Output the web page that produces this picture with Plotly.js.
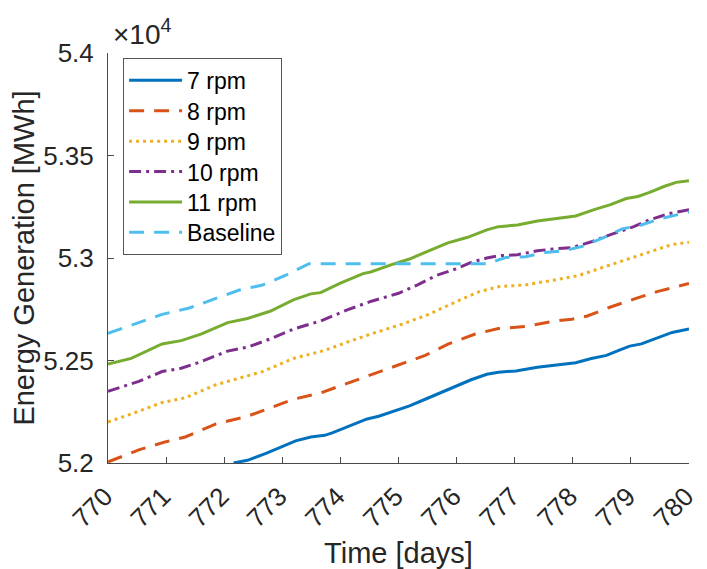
<!DOCTYPE html>
<html>
<head>
<meta charset="utf-8">
<script src="https://cdn.plot.ly/plotly-3.0.1.min.js"></script>
<style>
html,body{margin:0;padding:0;background:#fff;}
#chart{width:707px;height:569px;}
</style>
</head>
<body>
<div id="chart"></div>
<script>
// Energy generation in MWh
const days7 = [772.16,772.40,772.73,772.99,773.23,773.49,773.73,773.86,774.13,774.46,774.66,774.92,775.19,775.46,775.72,775.99,776.25,776.52,776.72,777.02,777.39,777.72,778.05,778.32,778.58,778.78,778.98,779.18,779.45,779.71,780.00];
const rpm7  = [52000,52013,52048,52080,52108,52127,52135,52147,52178,52215,52228,52252,52279,52311,52342,52374,52406,52433,52443,52449,52467,52478,52489,52510,52525,52548,52570,52581,52608,52637,52654];

const days8 = [770.00,770.53,771.00,771.33,771.86,772.40,772.79,773.19,773.66,774.13,774.52,774.99,775.46,775.86,776.32,776.72,777.19,777.65,777.98,778.25,778.65,779.05,779.45,780.00];
const rpm8  = [52005,52064,52104,52127,52191,52228,52268,52311,52342,52390,52430,52475,52525,52581,52629,52656,52666,52691,52701,52717,52761,52799,52836,52876];

const days9 = [770.00,770.40,770.93,771.33,771.86,772.26,772.66,773.19,773.73,774.19,774.52,775.06,775.52,776.00,776.39,776.72,777.19,777.85,778.12,778.45,778.78,779.05,779.31,779.71,780.00];
const rpm9  = [52200,52239,52295,52318,52382,52414,52446,52510,52549,52597,52629,52677,52725,52788,52836,52860,52869,52901,52916,52948,52979,53003,53027,53066,53077];

const days10 = [770.00,770.53,770.93,771.26,771.60,772.06,772.40,772.79,773.19,773.66,774.13,774.52,775.00,775.32,775.66,775.99,776.25,776.52,776.72,777.05,777.39,777.72,777.98,778.32,778.65,779.05,779.31,779.65,780.00];
const rpm10  = [52350,52398,52446,52462,52494,52546,52565,52605,52653,52693,52748,52788,52828,52868,52916,52947,52979,53000,53011,53016,53035,53046,53050,53079,53114,53153,53185,53216,53235];

const days11 = [770.00,770.40,770.93,771.26,771.60,772.06,772.40,772.79,773.19,773.49,773.66,773.99,774.39,774.52,774.92,775.19,775.52,775.85,776.19,776.52,776.72,777.05,777.39,777.72,778.05,778.38,778.65,778.92,779.12,779.31,779.58,779.78,780.00];
const rpm11  = [52483,52510,52581,52597,52629,52685,52705,52740,52796,52825,52831,52876,52924,52932,52971,52995,53035,53074,53101,53137,53153,53161,53180,53192,53205,53237,53260,53290,53300,53319,53350,53369,53377];

const daysBase = [770.00,770.53,770.93,771.40,771.86,772.26,772.66,773.06,773.46,776.52,776.85,777.19,777.52,777.85,778.18,778.52,778.85,779.18,779.51,780.00];
const baseline = [52632,52685,52725,52756,52804,52844,52868,52916,52972,52972,53003,53006,53027,53035,53058,53098,53142,53161,53192,53224];

const seriesNames = ['7 rpm','8 rpm','9 rpm','10 rpm','11 rpm','Baseline'];
const xTicks = [770,771,772,773,774,775,776,777,778,779,780];
const yTicks = [52000,52500,53000,53500,54000];
const yTickText = ['5.2','5.25','5.3','5.35','5.4'];

const FONT = 'Arial, "Liberation Sans", Helvetica, sans-serif';
const TXT = '#262626';
const AX = '#4a4a4a';

const styles = [
  {color:'#0072BD', dash:'solid'},
  {color:'#D95319', dash:'15px,10px'},
  {color:'#EDB120', dash:'3px,4px'},
  {color:'#7E2F8E', dash:'12px,5px,3px,5px'},
  {color:'#77AC30', dash:'solid'},
  {color:'#4DBEEE', dash:'15px,10px'}
];
const xs = [days7, days8, days9, days10, days11, daysBase];
const ys = [rpm7, rpm8, rpm9, rpm10, rpm11, baseline];

const data = seriesNames.map((n,i) => ({
  type:'scatter', mode:'lines', name:n, x:xs[i], y:ys[i],
  line:{color:styles[i].color, dash:styles[i].dash, width:3}
}));

const layout = {
  width:707, height:569,
  margin:{l:108, r:18, t:53, b:106},
  paper_bgcolor:'#fff', plot_bgcolor:'#fff',
  font:{family:FONT, color:TXT},
  showlegend:true,
  legend:{x:0.026, y:0.988, xanchor:'left', yanchor:'top',
    bgcolor:'#fff', bordercolor:'#555', borderwidth:1, itemwidth:53,
    font:{size:23, color:'#000', family:FONT}, tracegroupgap:0},
  xaxis:{range:[770,780], tickvals:xTicks, ticktext:xTicks.map(String),
    tickangle:-45, ticks:'inside', ticklen:6, tickcolor:AX,
    ticklabelstandoff:7, ticklabelshift:-3,
    showline:true, linecolor:AX, linewidth:1, mirror:false, showgrid:false, zeroline:false,
    tickfont:{size:26, color:TXT},
    title:{text:'Time [days]', font:{size:29, color:TXT}, standoff:12}},
  yaxis:{range:[52000,54000], tickvals:yTicks, ticktext:yTickText,
    ticks:'inside', ticklen:6, tickcolor:AX, ticklabelstandoff:8,
    showline:true, linecolor:AX, linewidth:1, mirror:false, showgrid:false, zeroline:false,
    tickfont:{size:26, color:TXT},
    title:{text:'Energy Generation [MWh]', font:{size:29, color:TXT}, standoff:0}},
  annotations:[{xref:'paper', yref:'paper', x:0.005, y:1.052, xanchor:'left', yanchor:'middle',
    text:'×10<sup>4</sup>', showarrow:false, font:{size:28, color:TXT}}]
};

function tidyLegend(gd) {
  // MATLAB-like legend: tighter rows
  const step = 30.4;
  const items = Array.from(gd.querySelectorAll('.legend .traces'));
  if (items.length > 1) {
    const parse = el => {
      const m = /translate\(\s*([-\d.e]+)[ ,]+([-\d.e]+)\s*\)/.exec(el.getAttribute('transform') || '');
      return m ? [parseFloat(m[1]), parseFloat(m[2])] : null;
    };
    const p0 = parse(items[0]);
    const p1 = parse(items[1]);
    if (p0 && p1 && Math.abs((p1[1] - p0[1]) - step) > 0.5) {
      const oldStep = p1[1] - p0[1];
      items.forEach((it, i) => {
        const p = parse(it);
        if (p) it.setAttribute('transform', 'translate(' + p[0] + ',' + (p0[1] + i * step) + ')');
      });
      const bg = gd.querySelector('.legend rect.bg');
      if (bg) {
        const h = parseFloat(bg.getAttribute('height'));
        bg.setAttribute('height', h - (oldStep - step) * (items.length - 1));
      }
    }
  }
}

Plotly.newPlot('chart', data, layout, {displayModeBar:false, staticPlot:true}).then(gd => {
  tidyLegend(gd);
});
</script>
</body>
</html>
